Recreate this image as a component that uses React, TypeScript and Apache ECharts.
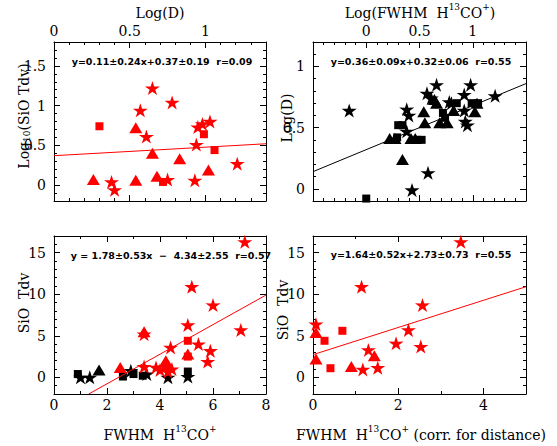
import React, { useEffect, useRef } from 'react';
import * as echarts from 'echarts';

// ---------- data ----------
// Panel A (top-left): Log(SiO Tdv) vs Log(D), all red
const A_STARS = [[0.65,1.22],[0.78,1.04],[0.57,0.94],[0.61,0.61],[0.95,0.73],[0.98,0.77],[1.03,0.80],[0.94,0.51],[0.38,0.04],[0.40,-0.06],[0.75,0.07],[0.93,0.06],[1.21,0.27]];
const A_TRIS = [[0.26,0.07],[0.54,0.72],[0.54,0.06],[0.65,0.40],[0.68,0.11],[0.83,0.33],[1.02,0.19]];
const A_SQS = [[0.30,0.74],[0.99,0.64],[1.06,0.44],[0.72,0.04]];
const A_FIT = [[0,0.37],[1.4,0.52]];
const A_XLABELS = [0, 0.5, 1];
const A_YLABELS = [0, 0.5, 1, 1.5];

// Panel B (top-right): Log(D) vs Log(FWHM), all black
const B_STARS = [[-0.16,0.64],[0.38,0.65],[0.40,0.60],[0.38,0.47],[0.57,0.78],[0.61,0.74],[0.66,0.85],[0.78,0.71],[0.80,0.70],[0.92,0.77],[0.98,0.85],[1.21,0.76],[0.92,0.64],[0.93,0.55],[0.95,0.52],[0.58,0.13],[0.43,-0.01]];
const B_TRIS = [[0.22,0.41],[0.27,0.41],[0.34,0.24],[0.42,0.41],[0.46,0.41],[0.54,0.63],[0.55,0.54],[0.64,0.73],[0.66,0.70],[0.69,0.54],[0.76,0.54],[0.82,0.64],[1.02,0.63],[1.04,0.70]];
const B_SQS = [[0.30,0.52],[0.34,0.52],[0.29,0.42],[0.48,0.40],[0.52,0.40],[0.72,0.62],[0.74,0.58],[0.85,0.70],[0.99,0.70],[1.05,0.70],[0.0,-0.08]];
const B_FIT = [[-0.5,0.14],[1.5,0.86]];
const B_XLABELS = [0, 0.5, 1];
const B_YLABELS = [0, 0.5, 1];

// Panel C (bottom-left): SiO Tdv vs FWHM
const C_RED_STARS = [[7.2,16.3],[5.2,10.9],[6.0,8.7],[5.05,6.3],[7.05,5.7],[3.4,5.2],[4.4,3.6],[5.45,4.0],[5.9,3.2],[5.8,1.9],[3.4,1.3],[3.85,1.2],[4.0,0.9],[4.2,1.3],[4.45,1.0],[4.3,0.7]];
const C_RED_TRIS = [[2.5,1.2],[3.4,5.5],[4.22,2.0],[4.25,1.4],[5.05,2.8]];
const C_RED_SQS = [[5.05,4.4],[5.05,2.5]];
const C_BLK_STARS = [[1.0,0.0],[1.35,0.0],[2.9,0.8],[3.5,0.4],[4.3,0.0],[5.05,0.1]];
const C_BLK_TRIS = [[1.7,0.9]];
const C_BLK_SQS = [[0.9,0.4],[2.6,0.1],[3.0,0.4],[3.35,0.2],[5.05,0.7]];
const C_FIT = [[1.31,-2],[8,9.9]];
const C_XLABELS = [0, 2, 4, 6, 8];
const C_YLABELS = [0, 5, 10, 15];

// Panel D (bottom-right): SiO Tdv vs FWHM corrected for distance, all red
const D_STARS = [[3.47,16.3],[1.14,10.9],[2.57,8.7],[0.07,6.4],[2.24,5.7],[1.95,4.1],[2.53,3.7],[1.30,3.3],[1.17,0.96],[1.52,1.16]];
const D_TRIS = [[0.07,5.4],[1.44,2.6],[0.07,2.2],[0.90,1.3]];
const D_SQS = [[0.69,5.6],[0.27,4.4],[0.41,1.1]];
const D_FIT = [[0,2.73],[5,10.9]];
const D_XLABELS = [0, 2, 4];
const D_YLABELS = [0, 5, 10, 15];

// ---------- styling ----------
const STAR = 'path://M0,-10L2.234,-3.074L9.511,-3.09L3.614,1.174L5.878,8.09L0,3.8L-5.878,8.09L-3.614,1.174L-9.511,-3.09L-2.234,-3.074Z';
const RED = '#ff0000';
const BLK = '#000000';
const SERIF = 'DejaVu Serif';

const GRIDS = [
  { left: 54, top: 42, width: 212, height: 159 },
  { left: 313, top: 42, width: 213, height: 159 },
  { left: 54, top: 236, width: 212, height: 158 },
  { left: 313, top: 236, width: 213, height: 158 },
];

function fmt(labels: number[]) {
  return (v: number) => (labels.some((l) => Math.abs(l - v) < 1e-9) ? String(v) : '');
}

function axis(kind: 'x' | 'y', gi: number, position: string, min: number, max: number, step: number, minorSplit: number, labels: number[] | null) {
  return {
    type: 'value',
    gridIndex: gi,
    position,
    min,
    max,
    minInterval: step,
    maxInterval: step,
    splitNumber: Math.max(1, Math.round((max - min) / step)),
    axisLine: { show: true, onZero: false, lineStyle: { color: BLK, width: 1 } },
    axisTick: { show: true, inside: true, length: 6, lineStyle: { color: BLK, width: 1 } },
    minorTick: { show: true, splitNumber: minorSplit, length: 3, lineStyle: { color: BLK, width: 1 } },
    splitLine: { show: false },
    minorSplitLine: { show: false },
    axisLabel: labels
      ? { show: true, formatter: fmt(labels), color: BLK, fontFamily: SERIF, fontSize: 14, margin: kind === 'x' ? 4 : 8 }
      : { show: false },
  };
}

function scatter(gi: number, data: number[][], shape: string, color: string, z = 3) {
  let symbol = STAR;
  let size: number | number[] = [15, 14];
  if (shape === 'tri') { symbol = 'triangle'; size = [13, 11]; }
  if (shape === 'sq') { symbol = 'rect'; size = [8, 8]; }
  return {
    type: 'scatter',
    xAxisIndex: 2 * gi,
    yAxisIndex: 2 * gi,
    data,
    symbol,
    symbolSize: size,
    itemStyle: { color, opacity: 1 },
    silent: true,
    z,
  };
}

function fit(gi: number, data: number[][], color: string) {
  return {
    type: 'line',
    xAxisIndex: 2 * gi,
    yAxisIndex: 2 * gi,
    data,
    showSymbol: false,
    symbol: 'none',
    lineStyle: { color, width: 1 },
    silent: true,
    z: 4,
  };
}

const RICH = {
  n: { fontFamily: SERIF, fontSize: 14, lineHeight: 18, verticalAlign: 'bottom', fill: BLK },
  sup: { fontFamily: SERIF, fontSize: 9, lineHeight: 11, verticalAlign: 'top', fill: BLK },
  sub: { fontFamily: SERIF, fontSize: 9, lineHeight: 9, verticalAlign: 'bottom', fill: BLK },
};

function title(text: string, x: number, y: number, rotate = false) {
  return {
    type: 'text',
    x,
    y,
    rotation: rotate ? Math.PI / 2 : 0,
    silent: true,
    style: { text, rich: RICH, align: 'center', verticalAlign: 'middle', fill: BLK },
  };
}

function fitText(text: string, x: number, y: number) {
  return {
    type: 'text',
    x,
    y,
    silent: true,
    style: {
      text,
      fill: BLK,
      fontFamily: 'DejaVu Sans',
      fontWeight: 'bold',
      fontSize: 9.5,
      align: 'center',
      verticalAlign: 'middle',
    },
  };
}

export default function App() {
  const ref = useRef<HTMLDivElement>(null);
  useEffect(() => {
    if (!ref.current) return;
    const chart = echarts.init(ref.current, undefined, { renderer: 'svg' });
    const option = {
      animation: false,
      backgroundColor: '#ffffff',
      grid: GRIDS.map((g) => ({ ...g, containLabel: false, show: false })),
      xAxis: [
        axis('x', 0, 'bottom', 0, 1.4, 0.5, 5, null),
        axis('x', 0, 'top', 0, 1.4, 0.5, 5, A_XLABELS),
        axis('x', 1, 'bottom', -0.5, 1.5, 0.5, 5, null),
        axis('x', 1, 'top', -0.5, 1.5, 0.5, 5, B_XLABELS),
        axis('x', 2, 'bottom', 0, 8, 2, 2, C_XLABELS),
        axis('x', 2, 'top', 0, 8, 2, 2, null),
        axis('x', 3, 'bottom', 0, 5, 2, 2, D_XLABELS),
        axis('x', 3, 'top', 0, 5, 2, 2, null),
      ],
      yAxis: [
        axis('y', 0, 'left', -0.2, 1.8, 0.5, 5, A_YLABELS),
        axis('y', 0, 'right', -0.2, 1.8, 0.5, 5, null),
        axis('y', 1, 'left', -0.1, 1.2, 0.5, 5, B_YLABELS),
        axis('y', 1, 'right', -0.1, 1.2, 0.5, 5, null),
        axis('y', 2, 'left', -2, 17, 5, 5, C_YLABELS),
        axis('y', 2, 'right', -2, 17, 5, 5, null),
        axis('y', 3, 'left', -2, 17, 5, 5, D_YLABELS),
        axis('y', 3, 'right', -2, 17, 5, 5, null),
      ],
      series: [
        scatter(0, A_STARS, 'star', RED),
        scatter(0, A_TRIS, 'tri', RED),
        scatter(0, A_SQS, 'sq', RED),
        fit(0, A_FIT, RED),
        scatter(1, B_STARS, 'star', BLK),
        scatter(1, B_TRIS, 'tri', BLK),
        scatter(1, B_SQS, 'sq', BLK),
        fit(1, B_FIT, BLK),
        scatter(2, C_BLK_STARS, 'star', BLK),
        scatter(2, C_BLK_TRIS, 'tri', BLK),
        scatter(2, C_BLK_SQS, 'sq', BLK),
        scatter(2, C_RED_STARS, 'star', RED),
        scatter(2, C_RED_TRIS, 'tri', RED),
        scatter(2, C_RED_SQS, 'sq', RED),
        fit(2, C_FIT, RED),
        scatter(3, D_STARS, 'star', RED),
        scatter(3, D_TRIS, 'tri', RED),
        scatter(3, D_SQS, 'sq', RED),
        fit(3, D_FIT, RED),
      ],
      graphic: [
        title('{n|Log(D)}', 160, 11),
        title('{n|Log(FWHM  H}{sup|13}{n|CO}{sup|+}{n|)}', 420, 11),
        title('{n|Log}{sub|10}{n|(SiO Tdv)}', 22, 116, true),
        title('{n|Log(D)}', 285, 118, true),
        title('{n|SiO  Tdv}', 22, 303, true),
        title('{n|SiO  Tdv}', 281, 310, true),
        title('{n|FWHM  H}{sup|13}{n|CO}{sup|+}', 160, 433),
        title('{n|FWHM  H}{sup|13}{n|CO}{sup|+}{n| (corr. for distance)}', 421, 433),
        fitText('y=0.11±0.24x+0.37±0.19  r=0.09', 162, 61),
        fitText('y=0.36±0.09x+0.32±0.06  r=0.55', 421, 61),
        fitText('y = 1.78±0.53x  \u2212  4.34±2.55  r=0.57', 171, 255),
        fitText('y=1.64±0.52x+2.73±0.73  r=0.55', 421, 254),
      ],
    };
    chart.setOption(option as any);
    return () => chart.dispose();
  }, []);
  return (
    <div
      ref={ref}
      style={{ position: 'absolute', left: 0, top: 0, width: 557, height: 446, background: '#fff' }}
    />
  );
}
